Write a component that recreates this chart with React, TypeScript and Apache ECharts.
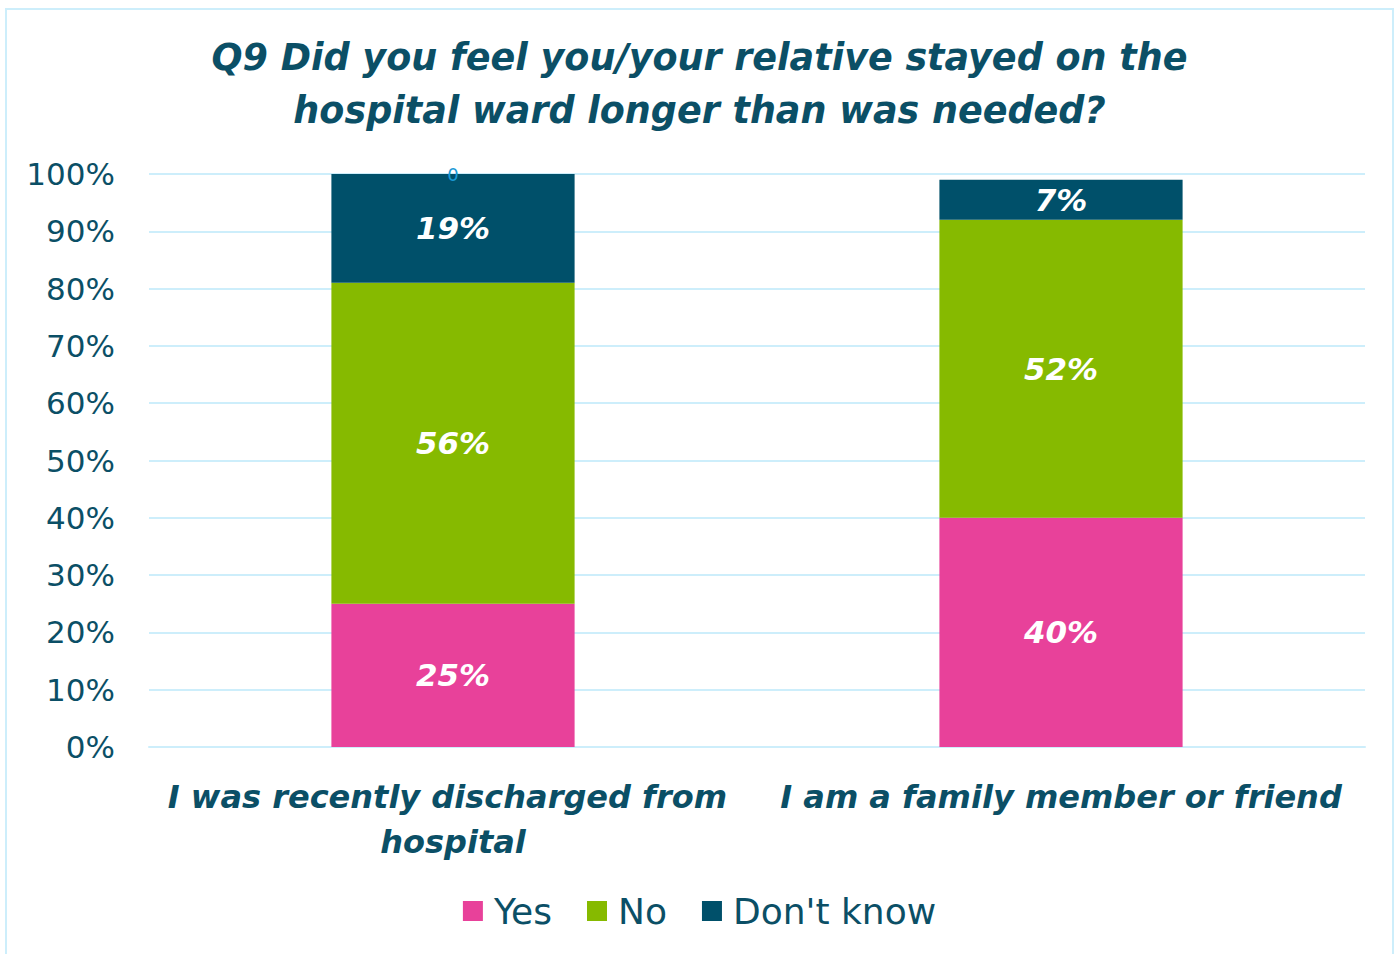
import React, { useEffect, useRef } from "react";
import * as echarts from "echarts";

const TITLE = "Q9 Did you feel you/your relative stayed on the\nhospital ward longer than was needed?";
const categories = ["I was recently discharged from hospital", "I am a family member or friend"];
const yesValues = [25, 40];
const noValues = [56, 52];
const dontKnowValues = [19, 7];
const zeroMarker = [0, null];
const yTicks = [0, 10, 20, 30, 40, 50, 60, 70, 80, 90, 100];

const FONT = "DejaVu Sans";
const DARK = "#0b4f66";

export default function App() {
  const ref = useRef<HTMLDivElement>(null);
  useEffect(() => {
    const chart = echarts.init(ref.current!, null, { renderer: "svg" });
    const dataLabel = {
      show: true,
      position: "inside",
      color: "#ffffff",
      fontFamily: FONT,
      fontWeight: "bold",
      fontStyle: "italic",
      fontSize: 31,
      formatter: (p: any) => `${p.value}%`,
    };
    chart.setOption({
      animation: false,
      backgroundColor: "#ffffff",
      graphic: [
        {
          type: "rect",
          shape: { x: 6, y: 9, width: 1387, height: 960 },
          style: { fill: "none", stroke: "#cdeefb", lineWidth: 2 },
          silent: true,
        },
      ],
      title: {
        text: TITLE,
        left: "center",
        top: 26,
        textStyle: {
          fontFamily: FONT,
          fontWeight: "bold",
          fontStyle: "italic",
          fontSize: 36.5,
          lineHeight: 53,
          color: DARK,
        },
      },
      legend: {
        data: ["Yes", "No", "Don't know"],
        bottom: 20,
        left: "center",
        itemWidth: 20,
        itemHeight: 20,
        itemGap: 35,
        icon: "rect",
        textStyle: { fontFamily: FONT, fontSize: 36, color: DARK, padding: [0, 0, 0, 6] },
      },
      grid: { left: 149, right: 34, top: 174, bottom: 207 },
      xAxis: {
        type: "category",
        data: categories,
        axisLine: { show: true, lineStyle: { color: "#cdeefb", width: 2 } },
        axisTick: { show: false },
        axisLabel: {
          interval: 0,
          margin: 27,
          width: 600,
          overflow: "break",
          fontFamily: FONT,
          fontWeight: "bold",
          fontStyle: "italic",
          fontSize: 32,
          lineHeight: 45,
          color: DARK,
        },
      },
      yAxis: {
        type: "value",
        min: yTicks[0],
        max: yTicks[yTicks.length - 1],
        interval: 10,
        axisLine: { show: false },
        axisTick: { show: false },
        splitLine: { lineStyle: { color: "#cdeefb", width: 2 } },
        axisLabel: {
          margin: 34,
          fontFamily: FONT,
          fontSize: 31,
          color: DARK,
          formatter: (v: number) => `${v}%`,
        },
      },
      series: [
        {
          name: "Yes",
          type: "bar",
          stack: "total",
          barWidth: "40%",
          data: yesValues,
          itemStyle: { color: "#e8419a" },
          label: dataLabel,
        },
        {
          name: "No",
          type: "bar",
          stack: "total",
          data: noValues,
          itemStyle: { color: "#86ba00" },
          label: dataLabel,
        },
        {
          name: "Don't know",
          type: "bar",
          stack: "total",
          data: dontKnowValues,
          itemStyle: { color: "#00506a" },
          label: dataLabel,
        },
        {
          name: "marker",
          type: "bar",
          stack: "total",
          data: zeroMarker,
          itemStyle: { color: "#00506a" },
          label: {
            show: true,
            position: "inside",
            color: "#1a9ad6",
            fontFamily: FONT,
            fontSize: 18,
            formatter: (p: any) => (p.value === 0 ? "0" : ""),
          },
        },
      ],
    });
    return () => chart.dispose();
  }, []);
  return (
    <div
      ref={ref}
      style={{ position: "absolute", left: 0, top: 0, width: 1399, height: 954 }}
    />
  );
}
